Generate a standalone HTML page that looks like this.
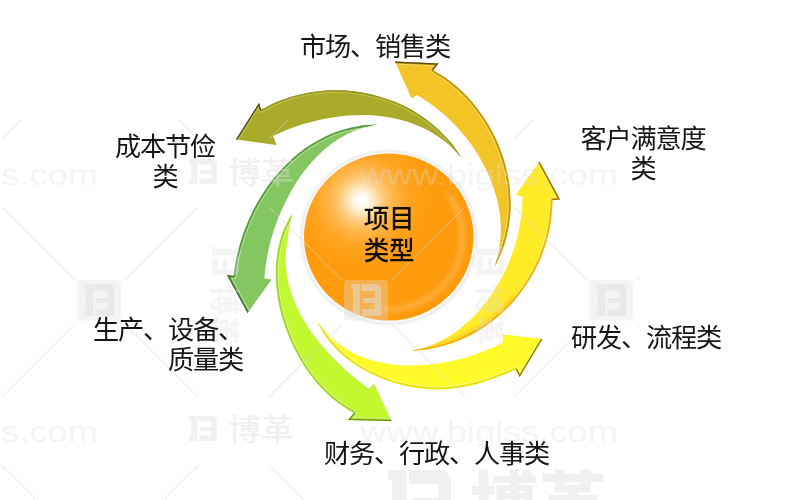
<!DOCTYPE html>
<html lang="zh-CN"><head><meta charset="utf-8"><title>项目类型</title>
<style>
html,body{margin:0;padding:0;background:#fff;}
body{width:800px;height:500px;overflow:hidden;position:relative;font-family:"Liberation Sans","Noto Sans CJK SC",sans-serif;}
svg{position:absolute;left:0;top:0;display:block}
.lbl{will-change:transform;position:absolute;font-size:26.2px;line-height:30px;color:#161616;white-space:nowrap;font-weight:400;letter-spacing:-1.2px}
.c{text-align:center} .r{text-align:right}
.wm{position:absolute;color:#e9e9e9;white-space:nowrap;font-family:"Liberation Sans","Noto Sans CJK SC",sans-serif}
</style></head><body>
<svg width="800" height="500" viewBox="0 0 800 500">
<defs>
<radialGradient id="sph" cx="361.5" cy="200.5" r="150" gradientUnits="userSpaceOnUse">
<stop offset="0" stop-color="#ffffff"/><stop offset="0.035" stop-color="#fffcf4"/><stop offset="0.075" stop-color="#ffeccc"/><stop offset="0.13" stop-color="#ffd189"/><stop offset="0.2" stop-color="#ffb84f"/><stop offset="0.3" stop-color="#ffa522"/><stop offset="0.45" stop-color="#ff9c0e"/><stop offset="1" stop-color="#ff990a"/>
</radialGradient>
<filter id="b2" x="-20%" y="-20%" width="140%" height="140%"><feGaussianBlur stdDeviation="2.2"/></filter>
<clipPath id="ca6"><path d="M461.0 157.0 C459.1 155.1 453.6 149.0 449.7 145.5 C445.7 141.9 441.5 138.8 437.2 135.9 C432.9 133.1 428.4 130.5 423.8 128.3 C419.2 126.1 414.5 124.1 409.6 122.5 C404.8 120.9 399.8 119.5 394.8 118.4 C389.8 117.3 384.7 116.5 379.5 116.0 C374.4 115.4 369.2 115.1 363.9 115.0 C358.7 115.0 353.4 115.2 348.2 115.5 C343.0 115.9 337.7 116.6 332.5 117.4 C327.3 118.2 322.1 119.2 316.9 120.4 C311.8 121.6 306.7 123.0 301.7 124.6 C296.8 126.2 291.8 127.9 287.0 129.8 C282.3 131.7 275.3 135.0 273.0 136.0 L276.6 145.0 L236.0 139.4 L259.0 103.0 L261.0 110.0 C263.6 108.7 271.3 104.4 276.6 102.1 C282.0 99.8 287.5 97.9 293.0 96.2 C298.6 94.6 304.3 93.4 310.0 92.4 C315.7 91.5 321.5 90.8 327.3 90.5 C333.1 90.2 338.9 90.3 344.7 90.6 C350.5 90.9 356.3 91.6 362.0 92.6 C367.7 93.6 373.4 94.9 378.9 96.4 C384.5 98.0 390.0 99.9 395.3 102.1 C400.6 104.3 405.9 106.8 410.9 109.6 C415.9 112.4 420.8 115.5 425.5 118.9 C430.1 122.3 434.6 126.0 438.8 129.9 C443.1 133.9 447.1 138.1 450.8 142.6 C454.5 147.1 459.3 154.6 461.0 157.0Z"/></clipPath>
<clipPath id="ca5"><path d="M377.4 124.6 C374.8 125.2 366.6 126.7 361.5 128.3 C356.4 129.9 351.6 132.0 346.9 134.3 C342.3 136.6 337.9 139.3 333.6 142.3 C329.4 145.2 325.4 148.5 321.6 152.0 C317.7 155.5 314.1 159.3 310.7 163.2 C307.2 167.1 304.0 171.3 301.0 175.6 C297.9 179.9 295.1 184.4 292.4 189.0 C289.7 193.5 287.2 198.2 284.9 203.0 C282.6 207.7 280.4 212.6 278.5 217.5 C276.5 222.4 274.7 227.3 273.2 232.3 C271.6 237.3 270.2 242.4 269.0 247.5 C267.9 252.6 266.9 257.8 266.1 263.0 C265.3 268.1 264.7 276.0 264.4 278.6 L271.6 279.4 L247.6 313.0 L227.0 275.0 L233.6 276.0 C234.0 273.2 235.1 264.6 236.3 258.9 C237.4 253.3 238.9 247.6 240.6 242.0 C242.3 236.4 244.2 230.8 246.5 225.3 C248.7 219.9 251.1 214.5 253.8 209.2 C256.5 204.0 259.5 198.8 262.6 193.9 C265.8 188.9 269.2 184.1 272.8 179.5 C276.5 174.9 280.3 170.5 284.4 166.4 C288.4 162.2 292.7 158.2 297.1 154.6 C301.6 151.0 306.2 147.5 311.1 144.5 C315.9 141.4 320.9 138.6 326.1 136.2 C331.3 133.8 336.7 131.7 342.2 130.0 C347.8 128.3 353.5 126.9 359.4 126.0 C365.2 125.1 374.4 124.8 377.4 124.6Z"/></clipPath>
<clipPath id="ca4"><path d="M291.9 213.8 C291.4 216.3 290.0 224.1 289.1 229.3 C288.2 234.5 287.2 239.9 286.6 245.1 C286.1 250.4 285.6 255.7 285.7 260.9 C285.8 266.2 286.3 271.4 287.1 276.5 C288.0 281.7 289.3 286.8 290.9 291.7 C292.4 296.7 294.4 301.6 296.6 306.4 C298.8 311.2 301.2 315.8 303.9 320.4 C306.6 324.9 309.5 329.4 312.6 333.7 C315.7 338.0 319.0 342.2 322.5 346.2 C325.9 350.3 329.6 354.3 333.3 358.1 C337.0 361.9 340.9 365.6 344.8 369.2 C348.7 372.7 352.7 376.2 356.8 379.5 C360.8 382.8 367.0 387.4 369.0 389.0 L374.0 383.6 L391.6 421.0 L348.0 420.0 L354.0 413.0 C351.5 411.4 343.7 407.0 338.9 403.5 C334.1 400.0 329.7 396.1 325.5 392.1 C321.3 388.0 317.3 383.6 313.7 379.1 C310.0 374.5 306.6 369.7 303.4 364.7 C300.3 359.8 297.4 354.6 294.8 349.3 C292.1 344.0 289.7 338.6 287.6 333.1 C285.5 327.6 283.6 321.9 282.0 316.3 C280.4 310.6 279.1 304.8 278.1 299.0 C277.1 293.2 276.4 287.3 276.1 281.4 C275.7 275.6 275.7 269.7 276.2 263.9 C276.6 258.1 277.4 252.2 278.7 246.6 C280.0 240.9 281.6 235.2 283.8 229.8 C286.1 224.3 290.6 216.4 291.9 213.8Z"/></clipPath>
<clipPath id="ca3"><path d="M317.0 321.5 C318.7 323.6 323.7 330.3 327.3 334.1 C331.0 337.9 335.0 341.3 339.1 344.3 C343.2 347.4 347.6 350.0 352.0 352.4 C356.5 354.7 361.2 356.7 366.0 358.4 C370.8 360.1 375.7 361.5 380.7 362.5 C385.7 363.6 390.9 364.4 396.0 364.9 C401.2 365.4 406.5 365.6 411.7 365.6 C417.0 365.6 422.3 365.3 427.6 364.8 C432.9 364.3 438.2 363.6 443.5 362.6 C448.7 361.7 454.0 360.6 459.1 359.2 C464.2 357.9 469.3 356.4 474.3 354.7 C479.2 353.1 484.1 351.2 488.8 349.3 C493.5 347.3 500.2 344.0 502.5 343.0 L503.0 334.4 L542.4 339.0 L519.6 377.0 L516.0 369.5 C513.3 370.6 505.2 374.0 499.7 376.1 C494.3 378.1 488.7 380.2 483.2 381.9 C477.6 383.6 472.0 385.2 466.3 386.3 C460.6 387.5 454.9 388.4 449.2 388.8 C443.5 389.3 437.7 389.4 432.0 389.2 C426.2 389.0 420.4 388.4 414.7 387.5 C409.0 386.6 403.2 385.3 397.5 383.8 C391.9 382.2 386.2 380.3 380.8 378.1 C375.4 375.9 370.0 373.4 364.9 370.6 C359.8 367.7 354.8 364.6 350.1 361.1 C345.5 357.6 341.0 353.8 337.0 349.7 C332.9 345.6 329.1 341.2 325.8 336.5 C322.5 331.8 318.5 324.0 317.0 321.5Z"/></clipPath>
<clipPath id="ca2"><path d="M410.0 351.0 C412.6 350.4 420.6 348.9 425.7 347.2 C430.7 345.6 435.6 343.6 440.2 341.3 C444.9 339.0 449.4 336.3 453.7 333.3 C458.0 330.4 462.1 327.2 466.0 323.7 C469.9 320.3 473.7 316.5 477.2 312.7 C480.8 308.8 484.1 304.7 487.3 300.4 C490.5 296.2 493.4 291.7 496.2 287.2 C499.0 282.7 501.6 278.0 503.9 273.2 C506.3 268.5 508.5 263.6 510.4 258.6 C512.3 253.6 514.0 248.6 515.5 243.5 C517.0 238.4 518.3 233.3 519.3 228.1 C520.3 222.9 521.1 217.7 521.6 212.6 C522.2 207.4 522.4 199.6 522.5 197.0 L516.0 194.4 L539.4 161.6 L560.0 199.6 L552.5 200.0 C552.3 203.0 552.1 211.9 551.4 217.7 C550.7 223.6 549.6 229.4 548.2 235.1 C546.8 240.8 545.0 246.4 543.0 251.9 C541.0 257.4 538.6 262.9 536.0 268.1 C533.4 273.3 530.4 278.4 527.2 283.3 C524.0 288.2 520.6 293.0 516.8 297.5 C513.1 302.0 509.1 306.3 504.9 310.3 C500.7 314.3 496.3 318.2 491.6 321.7 C487.0 325.2 482.1 328.4 477.1 331.4 C472.1 334.3 466.9 337.0 461.5 339.3 C456.2 341.6 450.6 343.7 445.0 345.3 C439.4 347.0 433.6 348.3 427.8 349.3 C422.0 350.2 413.0 350.7 410.0 351.0Z"/></clipPath>
<clipPath id="ca1"><path d="M494.5 267.5 C495.2 264.9 497.7 257.2 498.7 252.1 C499.7 246.9 500.3 241.7 500.6 236.5 C500.9 231.3 500.9 226.2 500.5 221.0 C500.1 215.9 499.4 210.7 498.4 205.7 C497.4 200.6 496.1 195.5 494.5 190.6 C492.9 185.6 491.1 180.7 489.0 175.9 C486.9 171.1 484.6 166.4 482.0 161.8 C479.5 157.2 476.7 152.7 473.8 148.3 C470.8 144.0 467.7 139.7 464.3 135.6 C461.0 131.5 457.5 127.6 453.8 123.8 C450.1 120.1 446.3 116.5 442.3 113.1 C438.4 109.6 434.3 106.4 430.0 103.4 C425.8 100.4 419.2 96.4 417.0 95.0 L411.6 98.6 L395.0 61.6 L438.6 63.6 L433.0 70.0 C435.5 71.6 443.0 76.0 447.7 79.4 C452.4 82.8 456.9 86.6 461.2 90.6 C465.5 94.6 469.5 98.9 473.3 103.4 C477.0 107.9 480.6 112.6 483.8 117.5 C487.1 122.4 490.1 127.6 492.8 132.8 C495.5 138.1 498.0 143.5 500.1 149.0 C502.2 154.5 504.0 160.2 505.5 165.8 C507.0 171.5 508.2 177.3 509.1 183.1 C509.9 188.9 510.4 194.8 510.5 200.6 C510.7 206.4 510.5 212.3 509.9 218.1 C509.3 223.9 508.3 229.6 507.0 235.3 C505.6 240.9 503.9 246.5 501.7 252.0 C499.6 257.5 495.3 265.3 494.0 268.0Z"/></clipPath>
<filter id="b1" x="-20%" y="-20%" width="140%" height="140%"><feGaussianBlur stdDeviation="0.8"/></filter>
<clipPath id="wmclip"><rect x="0" y="120" width="640" height="380"/></clipPath>
</defs>
<!-- arrows -->
<path d="M461.0 157.0 C459.1 155.1 453.6 149.0 449.7 145.5 C445.7 141.9 441.5 138.8 437.2 135.9 C432.9 133.1 428.4 130.5 423.8 128.3 C419.2 126.1 414.5 124.1 409.6 122.5 C404.8 120.9 399.8 119.5 394.8 118.4 C389.8 117.3 384.7 116.5 379.5 116.0 C374.4 115.4 369.2 115.1 363.9 115.0 C358.7 115.0 353.4 115.2 348.2 115.5 C343.0 115.9 337.7 116.6 332.5 117.4 C327.3 118.2 322.1 119.2 316.9 120.4 C311.8 121.6 306.7 123.0 301.7 124.6 C296.8 126.2 291.8 127.9 287.0 129.8 C282.3 131.7 275.3 135.0 273.0 136.0 L276.6 145.0 L236.0 139.4 L259.0 103.0 L261.0 110.0 C263.6 108.7 271.3 104.4 276.6 102.1 C282.0 99.8 287.5 97.9 293.0 96.2 C298.6 94.6 304.3 93.4 310.0 92.4 C315.7 91.5 321.5 90.8 327.3 90.5 C333.1 90.2 338.9 90.3 344.7 90.6 C350.5 90.9 356.3 91.6 362.0 92.6 C367.7 93.6 373.4 94.9 378.9 96.4 C384.5 98.0 390.0 99.9 395.3 102.1 C400.6 104.3 405.9 106.8 410.9 109.6 C415.9 112.4 420.8 115.5 425.5 118.9 C430.1 122.3 434.6 126.0 438.8 129.9 C443.1 133.9 447.1 138.1 450.8 142.6 C454.5 147.1 459.3 154.6 461.0 157.0Z" fill="#a9a92a"/><g clip-path="url(#ca6)" fill="none" stroke-linejoin="round"><path d="M236.0 139.4 L259.0 103.0 L261.0 110.0 C263.6 108.7 271.3 104.4 276.6 102.1 C282.0 99.8 287.5 97.9 293.0 96.2 C298.6 94.6 304.3 93.4 310.0 92.4 C315.7 91.5 321.5 90.8 327.3 90.5 C333.1 90.2 338.9 90.3 344.7 90.6 C350.5 90.9 356.3 91.6 362.0 92.6 C367.7 93.6 373.4 94.9 378.9 96.4 C384.5 98.0 390.0 99.9 395.3 102.1 C400.6 104.3 405.9 106.8 410.9 109.6 C415.9 112.4 420.8 115.5 425.5 118.9 C430.1 122.3 434.6 126.0 438.8 129.9 C443.1 133.9 447.1 138.1 450.8 142.6 C454.5 147.1 459.3 154.6 461.0 157.0" stroke="#c9c95e" stroke-opacity="0.5" stroke-width="6"/><path d="M236.0 139.4 L259.0 103.0 L261.0 110.0 C263.6 108.7 271.3 104.4 276.6 102.1 C282.0 99.8 287.5 97.9 293.0 96.2 C298.6 94.6 304.3 93.4 310.0 92.4 C315.7 91.5 321.5 90.8 327.3 90.5 C333.1 90.2 338.9 90.3 344.7 90.6 C350.5 90.9 356.3 91.6 362.0 92.6 C367.7 93.6 373.4 94.9 378.9 96.4 C384.5 98.0 390.0 99.9 395.3 102.1 C400.6 104.3 405.9 106.8 410.9 109.6 C415.9 112.4 420.8 115.5 425.5 118.9 C430.1 122.3 434.6 126.0 438.8 129.9 C443.1 133.9 447.1 138.1 450.8 142.6 C454.5 147.1 459.3 154.6 461.0 157.0" stroke="#93931f" stroke-width="2.6"/><path d="M236.0 139.4 L259.0 103.0 L261.0 110.0" stroke="#33331a" stroke-opacity="0.85" stroke-width="2.2"/></g>
<path d="M377.4 124.6 C374.8 125.2 366.6 126.7 361.5 128.3 C356.4 129.9 351.6 132.0 346.9 134.3 C342.3 136.6 337.9 139.3 333.6 142.3 C329.4 145.2 325.4 148.5 321.6 152.0 C317.7 155.5 314.1 159.3 310.7 163.2 C307.2 167.1 304.0 171.3 301.0 175.6 C297.9 179.9 295.1 184.4 292.4 189.0 C289.7 193.5 287.2 198.2 284.9 203.0 C282.6 207.7 280.4 212.6 278.5 217.5 C276.5 222.4 274.7 227.3 273.2 232.3 C271.6 237.3 270.2 242.4 269.0 247.5 C267.9 252.6 266.9 257.8 266.1 263.0 C265.3 268.1 264.7 276.0 264.4 278.6 L271.6 279.4 L247.6 313.0 L227.0 275.0 L233.6 276.0 C234.0 273.2 235.1 264.6 236.3 258.9 C237.4 253.3 238.9 247.6 240.6 242.0 C242.3 236.4 244.2 230.8 246.5 225.3 C248.7 219.9 251.1 214.5 253.8 209.2 C256.5 204.0 259.5 198.8 262.6 193.9 C265.8 188.9 269.2 184.1 272.8 179.5 C276.5 174.9 280.3 170.5 284.4 166.4 C288.4 162.2 292.7 158.2 297.1 154.6 C301.6 151.0 306.2 147.5 311.1 144.5 C315.9 141.4 320.9 138.6 326.1 136.2 C331.3 133.8 336.7 131.7 342.2 130.0 C347.8 128.3 353.5 126.9 359.4 126.0 C365.2 125.1 374.4 124.8 377.4 124.6Z" fill="#84c761"/><g clip-path="url(#ca5)" fill="none" stroke-linejoin="round"><path d="M247.6 313.0 L227.0 275.0 L233.6 276.0 C234.0 273.2 235.1 264.6 236.3 258.9 C237.4 253.3 238.9 247.6 240.6 242.0 C242.3 236.4 244.2 230.8 246.5 225.3 C248.7 219.9 251.1 214.5 253.8 209.2 C256.5 204.0 259.5 198.8 262.6 193.9 C265.8 188.9 269.2 184.1 272.8 179.5 C276.5 174.9 280.3 170.5 284.4 166.4 C288.4 162.2 292.7 158.2 297.1 154.6 C301.6 151.0 306.2 147.5 311.1 144.5 C315.9 141.4 320.9 138.6 326.1 136.2 C331.3 133.8 336.7 131.7 342.2 130.0 C347.8 128.3 353.5 126.9 359.4 126.0 C365.2 125.1 374.4 124.8 377.4 124.6" stroke="#eaf7e0" stroke-opacity="0.5" stroke-width="6"/><path d="M247.6 313.0 L227.0 275.0 L233.6 276.0 C234.0 273.2 235.1 264.6 236.3 258.9 C237.4 253.3 238.9 247.6 240.6 242.0 C242.3 236.4 244.2 230.8 246.5 225.3 C248.7 219.9 251.1 214.5 253.8 209.2 C256.5 204.0 259.5 198.8 262.6 193.9 C265.8 188.9 269.2 184.1 272.8 179.5 C276.5 174.9 280.3 170.5 284.4 166.4 C288.4 162.2 292.7 158.2 297.1 154.6 C301.6 151.0 306.2 147.5 311.1 144.5 C315.9 141.4 320.9 138.6 326.1 136.2 C331.3 133.8 336.7 131.7 342.2 130.0 C347.8 128.3 353.5 126.9 359.4 126.0 C365.2 125.1 374.4 124.8 377.4 124.6" stroke="#57a03c" stroke-width="3.8"/><path d="M247.6 313.0 L227.0 275.0 L233.6 276.0" stroke="#3f5f30" stroke-opacity="0.85" stroke-width="2.2"/></g>
<path d="M291.9 213.8 C291.4 216.3 290.0 224.1 289.1 229.3 C288.2 234.5 287.2 239.9 286.6 245.1 C286.1 250.4 285.6 255.7 285.7 260.9 C285.8 266.2 286.3 271.4 287.1 276.5 C288.0 281.7 289.3 286.8 290.9 291.7 C292.4 296.7 294.4 301.6 296.6 306.4 C298.8 311.2 301.2 315.8 303.9 320.4 C306.6 324.9 309.5 329.4 312.6 333.7 C315.7 338.0 319.0 342.2 322.5 346.2 C325.9 350.3 329.6 354.3 333.3 358.1 C337.0 361.9 340.9 365.6 344.8 369.2 C348.7 372.7 352.7 376.2 356.8 379.5 C360.8 382.8 367.0 387.4 369.0 389.0 L374.0 383.6 L391.6 421.0 L348.0 420.0 L354.0 413.0 C351.5 411.4 343.7 407.0 338.9 403.5 C334.1 400.0 329.7 396.1 325.5 392.1 C321.3 388.0 317.3 383.6 313.7 379.1 C310.0 374.5 306.6 369.7 303.4 364.7 C300.3 359.8 297.4 354.6 294.8 349.3 C292.1 344.0 289.7 338.6 287.6 333.1 C285.5 327.6 283.6 321.9 282.0 316.3 C280.4 310.6 279.1 304.8 278.1 299.0 C277.1 293.2 276.4 287.3 276.1 281.4 C275.7 275.6 275.7 269.7 276.2 263.9 C276.6 258.1 277.4 252.2 278.7 246.6 C280.0 240.9 281.6 235.2 283.8 229.8 C286.1 224.3 290.6 216.4 291.9 213.8Z" fill="#c2f830"/><g clip-path="url(#ca4)" fill="none" stroke-linejoin="round"><path d="M391.6 421.0 L348.0 420.0 L354.0 413.0 C351.5 411.4 343.7 407.0 338.9 403.5 C334.1 400.0 329.7 396.1 325.5 392.1 C321.3 388.0 317.3 383.6 313.7 379.1 C310.0 374.5 306.6 369.7 303.4 364.7 C300.3 359.8 297.4 354.6 294.8 349.3 C292.1 344.0 289.7 338.6 287.6 333.1 C285.5 327.6 283.6 321.9 282.0 316.3 C280.4 310.6 279.1 304.8 278.1 299.0 C277.1 293.2 276.4 287.3 276.1 281.4 C275.7 275.6 275.7 269.7 276.2 263.9 C276.6 258.1 277.4 252.2 278.7 246.6 C280.0 240.9 281.6 235.2 283.8 229.8 C286.1 224.3 290.6 216.4 291.9 213.8" stroke="#f0f0e0" stroke-opacity="0.5" stroke-width="6"/><path d="M391.6 421.0 L348.0 420.0 L354.0 413.0 C351.5 411.4 343.7 407.0 338.9 403.5 C334.1 400.0 329.7 396.1 325.5 392.1 C321.3 388.0 317.3 383.6 313.7 379.1 C310.0 374.5 306.6 369.7 303.4 364.7 C300.3 359.8 297.4 354.6 294.8 349.3 C292.1 344.0 289.7 338.6 287.6 333.1 C285.5 327.6 283.6 321.9 282.0 316.3 C280.4 310.6 279.1 304.8 278.1 299.0 C277.1 293.2 276.4 287.3 276.1 281.4 C275.7 275.6 275.7 269.7 276.2 263.9 C276.6 258.1 277.4 252.2 278.7 246.6 C280.0 240.9 281.6 235.2 283.8 229.8 C286.1 224.3 290.6 216.4 291.9 213.8" stroke="#a4d81e" stroke-width="3.8"/><path d="M391.6 421.0 L348.0 420.0 L354.0 413.0" stroke="#5c7a12" stroke-opacity="0.85" stroke-width="2.2"/></g>
<path d="M317.0 321.5 C318.7 323.6 323.7 330.3 327.3 334.1 C331.0 337.9 335.0 341.3 339.1 344.3 C343.2 347.4 347.6 350.0 352.0 352.4 C356.5 354.7 361.2 356.7 366.0 358.4 C370.8 360.1 375.7 361.5 380.7 362.5 C385.7 363.6 390.9 364.4 396.0 364.9 C401.2 365.4 406.5 365.6 411.7 365.6 C417.0 365.6 422.3 365.3 427.6 364.8 C432.9 364.3 438.2 363.6 443.5 362.6 C448.7 361.7 454.0 360.6 459.1 359.2 C464.2 357.9 469.3 356.4 474.3 354.7 C479.2 353.1 484.1 351.2 488.8 349.3 C493.5 347.3 500.2 344.0 502.5 343.0 L503.0 334.4 L542.4 339.0 L519.6 377.0 L516.0 369.5 C513.3 370.6 505.2 374.0 499.7 376.1 C494.3 378.1 488.7 380.2 483.2 381.9 C477.6 383.6 472.0 385.2 466.3 386.3 C460.6 387.5 454.9 388.4 449.2 388.8 C443.5 389.3 437.7 389.4 432.0 389.2 C426.2 389.0 420.4 388.4 414.7 387.5 C409.0 386.6 403.2 385.3 397.5 383.8 C391.9 382.2 386.2 380.3 380.8 378.1 C375.4 375.9 370.0 373.4 364.9 370.6 C359.8 367.7 354.8 364.6 350.1 361.1 C345.5 357.6 341.0 353.8 337.0 349.7 C332.9 345.6 329.1 341.2 325.8 336.5 C322.5 331.8 318.5 324.0 317.0 321.5Z" fill="#fffa28"/><g clip-path="url(#ca3)" fill="none" stroke-linejoin="round"><path d="M542.4 339.0 L519.6 377.0 L516.0 369.5 C513.3 370.6 505.2 374.0 499.7 376.1 C494.3 378.1 488.7 380.2 483.2 381.9 C477.6 383.6 472.0 385.2 466.3 386.3 C460.6 387.5 454.9 388.4 449.2 388.8 C443.5 389.3 437.7 389.4 432.0 389.2 C426.2 389.0 420.4 388.4 414.7 387.5 C409.0 386.6 403.2 385.3 397.5 383.8 C391.9 382.2 386.2 380.3 380.8 378.1 C375.4 375.9 370.0 373.4 364.9 370.6 C359.8 367.7 354.8 364.6 350.1 361.1 C345.5 357.6 341.0 353.8 337.0 349.7 C332.9 345.6 329.1 341.2 325.8 336.5 C322.5 331.8 318.5 324.0 317.0 321.5" stroke="#ffffc0" stroke-opacity="0.5" stroke-width="6"/><path d="M542.4 339.0 L519.6 377.0 L516.0 369.5 C513.3 370.6 505.2 374.0 499.7 376.1 C494.3 378.1 488.7 380.2 483.2 381.9 C477.6 383.6 472.0 385.2 466.3 386.3 C460.6 387.5 454.9 388.4 449.2 388.8 C443.5 389.3 437.7 389.4 432.0 389.2 C426.2 389.0 420.4 388.4 414.7 387.5 C409.0 386.6 403.2 385.3 397.5 383.8 C391.9 382.2 386.2 380.3 380.8 378.1 C375.4 375.9 370.0 373.4 364.9 370.6 C359.8 367.7 354.8 364.6 350.1 361.1 C345.5 357.6 341.0 353.8 337.0 349.7 C332.9 345.6 329.1 341.2 325.8 336.5 C322.5 331.8 318.5 324.0 317.0 321.5" stroke="#e9e012" stroke-width="3.8"/><path d="M542.4 339.0 L519.6 377.0 L516.0 369.5" stroke="#5e5a12" stroke-opacity="0.85" stroke-width="2.2"/></g>
<path d="M410.0 351.0 C412.6 350.4 420.6 348.9 425.7 347.2 C430.7 345.6 435.6 343.6 440.2 341.3 C444.9 339.0 449.4 336.3 453.7 333.3 C458.0 330.4 462.1 327.2 466.0 323.7 C469.9 320.3 473.7 316.5 477.2 312.7 C480.8 308.8 484.1 304.7 487.3 300.4 C490.5 296.2 493.4 291.7 496.2 287.2 C499.0 282.7 501.6 278.0 503.9 273.2 C506.3 268.5 508.5 263.6 510.4 258.6 C512.3 253.6 514.0 248.6 515.5 243.5 C517.0 238.4 518.3 233.3 519.3 228.1 C520.3 222.9 521.1 217.7 521.6 212.6 C522.2 207.4 522.4 199.6 522.5 197.0 L516.0 194.4 L539.4 161.6 L560.0 199.6 L552.5 200.0 C552.3 203.0 552.1 211.9 551.4 217.7 C550.7 223.6 549.6 229.4 548.2 235.1 C546.8 240.8 545.0 246.4 543.0 251.9 C541.0 257.4 538.6 262.9 536.0 268.1 C533.4 273.3 530.4 278.4 527.2 283.3 C524.0 288.2 520.6 293.0 516.8 297.5 C513.1 302.0 509.1 306.3 504.9 310.3 C500.7 314.3 496.3 318.2 491.6 321.7 C487.0 325.2 482.1 328.4 477.1 331.4 C472.1 334.3 466.9 337.0 461.5 339.3 C456.2 341.6 450.6 343.7 445.0 345.3 C439.4 347.0 433.6 348.3 427.8 349.3 C422.0 350.2 413.0 350.7 410.0 351.0Z" fill="#ffeb26"/><g clip-path="url(#ca2)" fill="none" stroke-linejoin="round"><path d="M539.4 161.6 L560.0 199.6 L552.5 200.0 C552.3 203.0 552.1 211.9 551.4 217.7 C550.7 223.6 549.6 229.4 548.2 235.1 C546.8 240.8 545.0 246.4 543.0 251.9 C541.0 257.4 538.6 262.9 536.0 268.1 C533.4 273.3 530.4 278.4 527.2 283.3 C524.0 288.2 520.6 293.0 516.8 297.5 C513.1 302.0 509.1 306.3 504.9 310.3 C500.7 314.3 496.3 318.2 491.6 321.7 C487.0 325.2 482.1 328.4 477.1 331.4 C472.1 334.3 466.9 337.0 461.5 339.3 C456.2 341.6 450.6 343.7 445.0 345.3 C439.4 347.0 433.6 348.3 427.8 349.3 C422.0 350.2 413.0 350.7 410.0 351.0" stroke="#fff9b0" stroke-opacity="0.5" stroke-width="6"/><path d="M516.8 297.5 C514.9 299.6 509.1 306.3 504.9 310.3 C500.7 314.3 496.3 318.2 491.6 321.7 C487.0 325.2 482.1 328.4 477.1 331.4 C472.1 334.3 466.9 337.0 461.5 339.3 C456.2 341.6 450.6 343.7 445.0 345.3 C439.4 347.0 433.6 348.3 427.8 349.3 C422.0 350.2 413.0 350.7 410.0 351.0" stroke="#ffd12a" stroke-opacity="0.9" stroke-width="10" filter="url(#b1)"/><path d="M539.4 161.6 L560.0 199.6 L552.5 200.0 C552.3 203.0 552.1 211.9 551.4 217.7 C550.7 223.6 549.6 229.4 548.2 235.1 C546.8 240.8 545.0 246.4 543.0 251.9 C541.0 257.4 538.6 262.9 536.0 268.1 C533.4 273.3 530.4 278.4 527.2 283.3 C524.0 288.2 520.6 293.0 516.8 297.5 C513.1 302.0 509.1 306.3 504.9 310.3 C500.7 314.3 496.3 318.2 491.6 321.7 C487.0 325.2 482.1 328.4 477.1 331.4 C472.1 334.3 466.9 337.0 461.5 339.3 C456.2 341.6 450.6 343.7 445.0 345.3 C439.4 347.0 433.6 348.3 427.8 349.3 C422.0 350.2 413.0 350.7 410.0 351.0" stroke="#efb414" stroke-width="3.8"/><path d="M539.4 161.6 L560.0 199.6 L552.5 200.0" stroke="#6e5c12" stroke-opacity="0.85" stroke-width="2.2"/></g>
<path d="M494.5 267.5 C495.2 264.9 497.7 257.2 498.7 252.1 C499.7 246.9 500.3 241.7 500.6 236.5 C500.9 231.3 500.9 226.2 500.5 221.0 C500.1 215.9 499.4 210.7 498.4 205.7 C497.4 200.6 496.1 195.5 494.5 190.6 C492.9 185.6 491.1 180.7 489.0 175.9 C486.9 171.1 484.6 166.4 482.0 161.8 C479.5 157.2 476.7 152.7 473.8 148.3 C470.8 144.0 467.7 139.7 464.3 135.6 C461.0 131.5 457.5 127.6 453.8 123.8 C450.1 120.1 446.3 116.5 442.3 113.1 C438.4 109.6 434.3 106.4 430.0 103.4 C425.8 100.4 419.2 96.4 417.0 95.0 L411.6 98.6 L395.0 61.6 L438.6 63.6 L433.0 70.0 C435.5 71.6 443.0 76.0 447.7 79.4 C452.4 82.8 456.9 86.6 461.2 90.6 C465.5 94.6 469.5 98.9 473.3 103.4 C477.0 107.9 480.6 112.6 483.8 117.5 C487.1 122.4 490.1 127.6 492.8 132.8 C495.5 138.1 498.0 143.5 500.1 149.0 C502.2 154.5 504.0 160.2 505.5 165.8 C507.0 171.5 508.2 177.3 509.1 183.1 C509.9 188.9 510.4 194.8 510.5 200.6 C510.7 206.4 510.5 212.3 509.9 218.1 C509.3 223.9 508.3 229.6 507.0 235.3 C505.6 240.9 503.9 246.5 501.7 252.0 C499.6 257.5 495.3 265.3 494.0 268.0Z" fill="#f3c425"/><g clip-path="url(#ca1)" fill="none" stroke-linejoin="round"><path d="M395.0 61.6 L438.6 63.6 L433.0 70.0 C435.5 71.6 443.0 76.0 447.7 79.4 C452.4 82.8 456.9 86.6 461.2 90.6 C465.5 94.6 469.5 98.9 473.3 103.4 C477.0 107.9 480.6 112.6 483.8 117.5 C487.1 122.4 490.1 127.6 492.8 132.8 C495.5 138.1 498.0 143.5 500.1 149.0 C502.2 154.5 504.0 160.2 505.5 165.8 C507.0 171.5 508.2 177.3 509.1 183.1 C509.9 188.9 510.4 194.8 510.5 200.6 C510.7 206.4 510.5 212.3 509.9 218.1 C509.3 223.9 508.3 229.6 507.0 235.3 C505.6 240.9 503.9 246.5 501.7 252.0 C499.6 257.5 495.3 265.3 494.0 268.0" stroke="#fff0b8" stroke-opacity="0.5" stroke-width="6"/><path d="M395.0 61.6 L438.6 63.6 L433.0 70.0 C435.5 71.6 443.0 76.0 447.7 79.4 C452.4 82.8 456.9 86.6 461.2 90.6 C465.5 94.6 469.5 98.9 473.3 103.4 C477.0 107.9 480.6 112.6 483.8 117.5 C487.1 122.4 490.1 127.6 492.8 132.8 C495.5 138.1 498.0 143.5 500.1 149.0 C502.2 154.5 504.0 160.2 505.5 165.8 C507.0 171.5 508.2 177.3 509.1 183.1 C509.9 188.9 510.4 194.8 510.5 200.6 C510.7 206.4 510.5 212.3 509.9 218.1 C509.3 223.9 508.3 229.6 507.0 235.3 C505.6 240.9 503.9 246.5 501.7 252.0 C499.6 257.5 495.3 265.3 494.0 268.0" stroke="#c09a14" stroke-width="3.8"/><path d="M395.0 61.6 L438.6 63.6 L433.0 70.0" stroke="#453c20" stroke-opacity="0.85" stroke-width="2.2"/></g>
<!-- sphere -->
<ellipse cx="388.9" cy="237.6" rx="89.6" ry="88.6" fill="#f7f7f7"/>
<ellipse cx="388.9" cy="237.5" rx="88.4" ry="87.3" fill="#efefef"/>
<ellipse cx="388.8" cy="237.3" rx="86.6" ry="85.4" fill="#f8f8f8"/>
<ellipse cx="388.75" cy="237" rx="84.75" ry="83.5" fill="url(#sph)"/>
<path d="M449.2 195.4 A73.8 72.6 0 0 1 374 308" fill="none" stroke="#ffc978" stroke-opacity="0.42" stroke-width="6" stroke-linecap="round" filter="url(#b2)"/>
<g clip-path="url(#wmclip)" fill="rgb(222,222,222)" font-family="Liberation Sans, Noto Sans CJK SC, sans-serif"><path d="M0 0h9v32H0v-5h2V5H0z M10 0h15a5 5 0 0 1 5 5v27H11v-7h13v-6H12v-5h12V7H10z" transform="translate(189 159) scale(0.93 0.78)" fill-opacity="0.45"/>
<text x="228" y="183" font-size="30" font-weight="500" textLength="66" lengthAdjust="spacingAndGlyphs" fill-opacity="0.45">博革</text>
<text x="360" y="185.3" font-size="29" textLength="258" lengthAdjust="spacingAndGlyphs" fill-opacity="0.32">www.biglss.com</text>
<text x="-160" y="185.3" font-size="29" textLength="258" lengthAdjust="spacingAndGlyphs" fill-opacity="0.32">www.biglss.com</text>
<path d="M0 0h9v32H0v-5h2V5H0z M10 0h15a5 5 0 0 1 5 5v27H11v-7h13v-6H12v-5h12V7H10z" transform="translate(189 416) scale(0.93 0.78)" fill-opacity="0.45"/>
<text x="228" y="440" font-size="30" font-weight="500" textLength="66" lengthAdjust="spacingAndGlyphs" fill-opacity="0.45">博革</text>
<text x="360" y="442.3" font-size="29" textLength="258" lengthAdjust="spacingAndGlyphs" fill-opacity="0.32">www.biglss.com</text>
<text x="-160" y="442.3" font-size="29" textLength="258" lengthAdjust="spacingAndGlyphs" fill-opacity="0.32">www.biglss.com</text>
<path d="M0 0h9v32H0v-5h2V5H0z M10 0h15a5 5 0 0 1 5 5v27H11v-7h13v-6H12v-5h12V7H10z" transform="translate(388 470) scale(2.1 2.0)" fill-opacity="0.45"/>
<text x="470" y="528" font-size="68" font-weight="900" textLength="137" lengthAdjust="spacingAndGlyphs" fill-opacity="0.45">博革</text>
<rect x="77" y="280" width="44" height="40.5" rx="4" fill-opacity="0.33"/>
<path d="M0 0h9v32H0v-5h2V5H0z M10 0h15a5 5 0 0 1 5 5v27H11v-7h13v-6H12v-5h12V7H10z" transform="translate(84 284) scale(1.0 1.0)" fill-opacity="0.5"/>
<rect x="344" y="280" width="44" height="40.5" rx="4" fill-opacity="0.33"/>
<path d="M0 0h9v32H0v-5h2V5H0z M10 0h15a5 5 0 0 1 5 5v27H11v-7h13v-6H12v-5h12V7H10z" transform="translate(351 284) scale(1.0 1.0)" fill-opacity="0.5"/>
<rect x="589" y="280" width="44" height="40.5" rx="4" fill-opacity="0.33"/>
<path d="M0 0h9v32H0v-5h2V5H0z M10 0h15a5 5 0 0 1 5 5v27H11v-7h13v-6H12v-5h12V7H10z" transform="translate(596 284) scale(1.0 1.0)" fill-opacity="0.5"/>
<path d="M75 22L2 -51 M75 66L2 139 M125 22L198 -51 M125 66L198 139 M342 22L269 -51 M342 66L269 139 M587 22L514 -51 M587 66L514 139 M637 22L710 -51 M637 66L710 139 M-190 22L-263 -51 M-190 66L-263 139 M-140 22L-67 -51 M-140 66L-67 139 M853 22L780 -51 M853 66L780 139 M903 22L976 -51 M903 66L976 139 M75 280L2 207 M75 324L2 397 M125 280L198 207 M125 324L198 397 M342 280L269 207 M342 324L269 397 M392 280L465 207 M392 324L465 397 M587 280L514 207 M587 324L514 397 M637 280L710 207 M637 324L710 397 M-190 280L-263 207 M-190 324L-263 397 M-140 280L-67 207 M-140 324L-67 397 M853 280L780 207 M853 324L780 397 M903 280L976 207 M903 324L976 397 M75 538L2 465 M75 582L2 655 M125 538L198 465 M125 582L198 655 M342 538L269 465 M342 582L269 655 M-190 538L-263 465 M-190 582L-263 655 M-140 538L-67 465 M-140 582L-67 655" stroke="rgb(212,212,212)" stroke-opacity="0.6" stroke-width="1" fill="none"/>
<g transform="translate(239 247) rotate(90)"><path d="M0 0h9v32H0v-5h2V5H0z M10 0h15a5 5 0 0 1 5 5v27H11v-7h13v-6H12v-5h12V7H10z" transform="translate(0 0) scale(0.93 0.85)" fill-opacity="0.33"/><text x="38" y="25" font-size="30" font-weight="700" textLength="60" lengthAdjust="spacingAndGlyphs" fill-opacity="0.33">博革</text></g>
<g transform="translate(504 247) rotate(90)"><path d="M0 0h9v32H0v-5h2V5H0z M10 0h15a5 5 0 0 1 5 5v27H11v-7h13v-6H12v-5h12V7H10z" transform="translate(0 0) scale(0.93 0.85)" fill-opacity="0.33"/><text x="38" y="25" font-size="30" font-weight="700" textLength="60" lengthAdjust="spacingAndGlyphs" fill-opacity="0.33">博革</text></g></g>
</svg>
<div class="lbl" style="left:300px;top:31.5px;">市场、销售类</div>
<div class="lbl c" style="left:567.5px;top:124.2px;width:150px;">客户满意度<br>类</div>
<div class="lbl" style="left:570.5px;top:323.3px;">研发、流程类</div>
<div class="lbl" style="left:324px;top:439px;">财务、行政、人事类</div>
<div class="lbl r" style="left:68px;top:314.5px;width:175px;">生产、设备、<br>质量类</div>
<div class="lbl c" style="left:89.5px;top:132.3px;width:150px;">成本节俭<br>类</div>
<div class="lbl c" style="left:339px;top:202.6px;width:100px;font-size:25.6px;line-height:32.2px;letter-spacing:-0.3px;font-weight:500;color:#140d04">项目<br>类型</div>
</body></html>
